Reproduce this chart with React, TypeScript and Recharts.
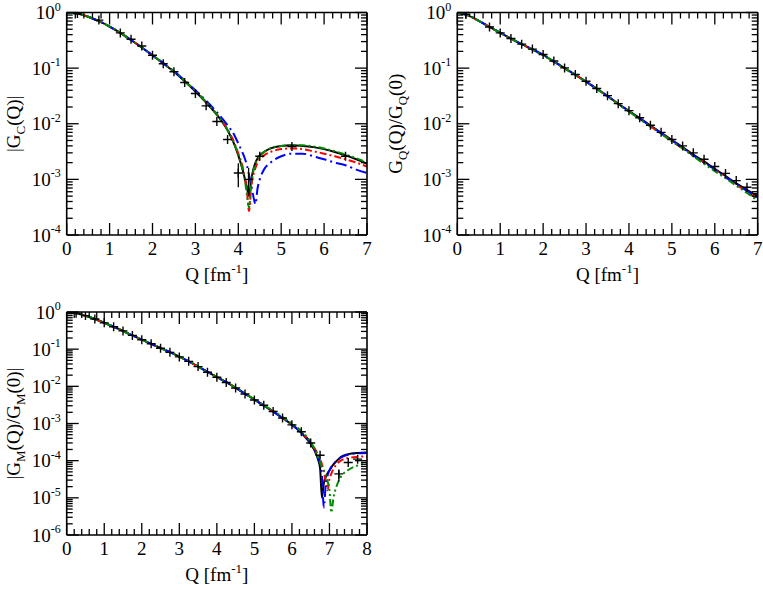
import React from 'react';
import { ComposedChart, Line, Scatter, XAxis, YAxis, ErrorBar, Label } from 'recharts';

// ---- panel 1: |G_C(Q)|
const gcQ = [0, 0.25, 0.5, 0.75, 1, 1.25, 1.5, 1.75, 2, 2.25, 2.5, 2.75, 3, 3.25, 3.5, 3.75, 3.9, 4, 4.1, 4.15, 4.2, 4.25, 4.3, 4.35, 4.4, 4.45, 4.5, 4.6, 4.75, 5, 5.25, 5.5, 5.75, 6, 6.25, 6.5, 6.75, 7];
const gcBlack = [1, 0.955, 0.84, 0.7, 0.56, 0.43, 0.32, 0.235, 0.17, 0.122, 0.086, 0.058, 0.038, 0.024, 0.0145, 0.0076, 0.0044, 0.0027, 0.0015, 0.00105, 0.00072, 0.0005, 0.00095, 0.0015, 0.002, 0.0024, 0.0027, 0.0031, 0.0036, 0.004, 0.0041, 0.004, 0.0038, 0.0035, 0.0031, 0.0027, 0.0023, 0.0019];
const gcRed = [1, 0.955, 0.84, 0.7, 0.56, 0.43, 0.32, 0.235, 0.17, 0.122, 0.087, 0.059, 0.039, 0.0245, 0.0148, 0.0079, 0.0047, 0.0029, 0.0017, 0.0011, 0.00062, 0.00027, 0.0007, 0.0012, 0.0016, 0.002, 0.0023, 0.0027, 0.0031, 0.0035, 0.0036, 0.0035, 0.0032, 0.0029, 0.0026, 0.0023, 0.002, 0.0017];
const gcBlue = [1, 0.955, 0.84, 0.7, 0.56, 0.43, 0.32, 0.235, 0.17, 0.123, 0.088, 0.06, 0.04, 0.026, 0.0162, 0.0094, 0.0064, 0.0044, 0.003, 0.0024, 0.0018, 0.0012, 0.0008, 0.0005, 0.00036, 0.0007, 0.001, 0.0015, 0.002, 0.0026, 0.0029, 0.0029, 0.0026, 0.0023, 0.002, 0.0018, 0.0015, 0.0013];
const gcGreen = [1, 0.955, 0.84, 0.7, 0.56, 0.43, 0.32, 0.235, 0.17, 0.122, 0.087, 0.059, 0.039, 0.0245, 0.0147, 0.0077, 0.0045, 0.0028, 0.0015, 0.001, 0.00055, 0.00031, 0.0008, 0.0014, 0.0019, 0.0023, 0.0026, 0.0031, 0.0036, 0.004, 0.0041, 0.0041, 0.0039, 0.0036, 0.0032, 0.0028, 0.0024, 0.002];
const gcExpQ = [0.25, 0.75, 1.25, 1.5, 1.75, 2, 2.25, 2.5, 2.75, 3, 3.25, 3.5, 3.75, 4, 4.24, 4.5, 5.25, 6.5];
const gcExp = [0.96, 0.73, 0.43, 0.33, 0.25, 0.17, 0.12, 0.086, 0.055, 0.035, 0.021, 0.011, 0.0052, 0.0013, 0.001, 0.0026, 0.0039, 0.0026];
const gcErrDown = [0, 0, 0, 0, 0, 0, 0, 0, 0, 0, 0, 0, 0, 0.00058, 0.0004, 0, 0, 0];
const gcErrUp = [0, 0, 0, 0, 0, 0, 0, 0, 0, 0, 0, 0, 0, 0.00065, 0.0006, 0, 0, 0];

// ---- panel 2: G_Q(Q)/G_Q(0)
const gqQ = [0, 0.25, 0.5, 0.75, 1, 1.25, 1.5, 1.75, 2, 2.25, 2.5, 2.75, 3, 3.25, 3.5, 3.75, 4, 4.25, 4.5, 4.75, 5, 5.25, 5.5, 5.75, 6, 6.25, 6.5, 6.75, 7];
const gqBlack = [1, 0.89, 0.71, 0.55, 0.43, 0.34, 0.27, 0.22, 0.174, 0.132, 0.1, 0.076, 0.0575, 0.0427, 0.0316, 0.0229, 0.017, 0.0126, 0.0093, 0.0069, 0.0051, 0.0038, 0.0028, 0.0021, 0.00155, 0.00115, 0.00085, 0.00065, 0.0005];
const gqRed = [1, 0.89, 0.71, 0.55, 0.43, 0.34, 0.27, 0.215, 0.171, 0.13, 0.099, 0.075, 0.057, 0.0423, 0.0312, 0.0226, 0.0167, 0.0123, 0.009, 0.0067, 0.0049, 0.0036, 0.0027, 0.002, 0.00148, 0.0011, 0.0008, 0.0006, 0.00044];
const gqBlue = [1, 0.89, 0.71, 0.555, 0.435, 0.34, 0.27, 0.217, 0.172, 0.131, 0.1, 0.076, 0.057, 0.0424, 0.0313, 0.0227, 0.0168, 0.0124, 0.0091, 0.0068, 0.005, 0.0037, 0.0027, 0.002, 0.0015, 0.0011, 0.00082, 0.00062, 0.00046];
const gqGreen = [1, 0.89, 0.71, 0.55, 0.43, 0.34, 0.27, 0.215, 0.171, 0.13, 0.099, 0.075, 0.0568, 0.042, 0.031, 0.0225, 0.0165, 0.0121, 0.0089, 0.0066, 0.0048, 0.0036, 0.0026, 0.0019, 0.0014, 0.00105, 0.00077, 0.00057, 0.00041];
const gqExpQ = [0.2, 0.75, 1, 1.25, 1.5, 1.75, 2, 2.25, 2.5, 2.75, 3, 3.25, 3.5, 3.75, 4, 4.25, 4.5, 4.75, 5, 5.25, 5.5, 5.75, 6, 6.25, 6.5, 6.75, 7];
const gqExp = [0.93, 0.55, 0.43, 0.34, 0.27, 0.22, 0.176, 0.134, 0.101, 0.077, 0.058, 0.043, 0.032, 0.023, 0.0172, 0.0128, 0.0094, 0.007, 0.0052, 0.004, 0.003, 0.0023, 0.0017, 0.00128, 0.00095, 0.00072, 0.00055];

// ---- panel 3: |G_M(Q)/G_M(0)|
const gmQ = [0, 0.25, 0.5, 0.75, 1, 1.25, 1.5, 1.75, 2, 2.25, 2.5, 2.75, 3, 3.25, 3.5, 3.75, 4, 4.25, 4.5, 4.75, 5, 5.25, 5.5, 5.75, 6, 6.25, 6.5, 6.6, 6.7, 6.75, 6.8, 6.85, 6.9, 6.95, 7, 7.05, 7.1, 7.2, 7.3, 7.5, 7.75, 8];
const gmBlack = [1, 0.93, 0.79, 0.65, 0.51, 0.4, 0.31, 0.234, 0.18, 0.14, 0.107, 0.083, 0.063, 0.047, 0.034, 0.0245, 0.0178, 0.0129, 0.0091, 0.0063, 0.0044, 0.003, 0.0021, 0.0014, 0.00093, 0.00056, 0.00028, 0.00019, 0.000105, 0.000063, 0.00001, 0.000025, 0.000036, 0.000046, 0.000055, 0.000066, 0.000078, 0.0001, 0.000125, 0.00015, 0.000162, 0.000166];
const gmRed = [1, 0.93, 0.79, 0.65, 0.51, 0.4, 0.31, 0.234, 0.18, 0.14, 0.107, 0.083, 0.063, 0.047, 0.034, 0.0246, 0.0179, 0.013, 0.0092, 0.0064, 0.0045, 0.0031, 0.0021, 0.00143, 0.00095, 0.00058, 0.00031, 0.00022, 0.00014, 0.00011, 0.00008, 0.00005, 0.000028, 0.000016, 0.000032, 0.000045, 0.000058, 0.000082, 0.0001, 0.000118, 0.000127, 0.00013];
const gmBlue = [1, 0.93, 0.79, 0.65, 0.51, 0.4, 0.31, 0.234, 0.18, 0.14, 0.107, 0.083, 0.063, 0.047, 0.034, 0.0245, 0.0178, 0.0129, 0.0091, 0.0063, 0.0044, 0.003, 0.0021, 0.0014, 0.00093, 0.00057, 0.0003, 0.0002, 0.00012, 0.000085, 0.00004, 0.0000055, 0.000022, 0.00004, 0.000055, 0.000068, 0.00008, 0.0001, 0.00012, 0.000145, 0.000158, 0.000162];
const gmGreen = [1, 0.93, 0.79, 0.65, 0.51, 0.4, 0.31, 0.234, 0.18, 0.14, 0.107, 0.083, 0.063, 0.047, 0.034, 0.0246, 0.018, 0.013, 0.0092, 0.0064, 0.0045, 0.0031, 0.0022, 0.0015, 0.001, 0.00062, 0.00032, 0.00021, 0.00012, 0.00009, 0.00007, 0.000055, 0.00004, 0.000028, 0.000016, 0.000004, 0.000009, 0.000022, 0.000036, 0.000056, 0.000074, 0.000085];
const gmExpQ = [0.25, 0.5, 0.75, 1, 1.25, 1.5, 1.75, 2, 2.25, 2.5, 2.75, 3, 3.25, 3.5, 3.75, 4, 4.25, 4.5, 4.75, 5, 5.25, 5.5, 5.75, 6, 6.25, 6.5, 6.75, 7.25, 7.5, 7.75];
const gmExp = [0.93, 0.8, 0.65, 0.51, 0.4, 0.31, 0.235, 0.18, 0.14, 0.106, 0.082, 0.062, 0.047, 0.034, 0.024, 0.0175, 0.0127, 0.009, 0.0062, 0.0043, 0.0031, 0.0021, 0.0014, 0.00092, 0.0006, 0.0003, 0.00014, 0.000044, 0.000089, 0.00011];
const gmErrDown = gmExpQ.map((q) => (q === 7.25 ? 0.0000165 : 0));
const gmErrUp = gmExpQ.map((q) => (q === 7.25 ? 0.000012 : 0));

const xMajor7 = [0, 1, 2, 3, 4, 5, 6, 7];
const xMajor8 = [0, 1, 2, 3, 4, 5, 6, 7, 8];
const yDecades4 = [1e-4, 1e-3, 1e-2, 1e-1, 1];
const yDecades6 = [1e-6, 1e-5, 1e-4, 1e-3, 1e-2, 1e-1, 1];

const SERIF = "'Liberation Serif', 'DejaVu Serif', serif";
const MAJOR = 12;
const MINOR = 6;
const FS = 19;
const SUB = 13;

const series = [
  { key: 'black', color: '#000000', dash: undefined },
  { key: 'red', color: '#ff0000', dash: '7 3 2 3' },
  { key: 'blue', color: '#0000ff', dash: '11 4 2 4' },
  { key: 'green', color: '#008b00', dash: '7 3 2 3 2 3' },
];

const makeRows = (q: number[], b: number[], r: number[], bl: number[], g: number[]) =>
  q.map((x, i) => ({ q: x, black: b[i], red: r[i], blue: bl[i], green: g[i] }));

const makePoints = (q: number[], v: number[], lo?: number[], hi?: number[]) =>
  q.map((x, i) => ({ q: x, v: v[i], err: [lo ? lo[i] : 0, hi ? hi[i] : 0] }));

const makeXTicks = (majors: number[]) => {
  const out: number[] = [];
  majors.forEach((m, i) => {
    out.push(m);
    if (i < majors.length - 1) for (let k = 1; k < 5; k++) out.push(m + (k * (majors[i + 1] - m)) / 5);
  });
  return out;
};

const makeLogTicks = (decades: number[]) => {
  const out: number[] = [];
  decades.forEach((d, i) => {
    out.push(d);
    if (i < decades.length - 1) for (let k = 2; k < 10; k++) out.push(k * d);
  });
  return out;
};

const isInt = (v: number) => Math.abs(v - Math.round(v)) < 1e-6;
const isDecade = (v: number) => isInt(Math.log10(v));

function BottomTick(props: any) {
  const { x, y, payload } = props;
  const major = isInt(payload.value);
  return (
    <g>
      <line x1={x} y1={y} x2={x} y2={y - (major ? MAJOR : MINOR)} stroke="#000" strokeWidth={1.3} />
      {major && (
        <text x={x} y={y + 20} textAnchor="middle" fontSize={FS} fontFamily={SERIF} fill="#000">
          {Math.round(payload.value)}
        </text>
      )}
    </g>
  );
}

function TopTick(props: any) {
  const { x, y, payload } = props;
  const major = isInt(payload.value);
  return <line x1={x} y1={y} x2={x} y2={y + (major ? MAJOR : MINOR)} stroke="#000" strokeWidth={1.3} />;
}

function LeftTick(props: any) {
  const { x, y, payload } = props;
  const major = isDecade(payload.value);
  const e = Math.round(Math.log10(payload.value));
  return (
    <g>
      <line x1={x} y1={y} x2={x + (major ? MAJOR : MINOR)} y2={y} stroke="#000" strokeWidth={1.3} />
      {major && (
        <text x={x - 6} y={y + 6.5} textAnchor="end" fontSize={FS} fontFamily={SERIF} fill="#000">
          10
          <tspan dy={-8.5} fontSize={12}>
            {String(e)}
          </tspan>
        </text>
      )}
    </g>
  );
}

function RightTick(props: any) {
  const { x, y, payload } = props;
  const major = isDecade(payload.value);
  return <line x1={x} y1={y} x2={x - (major ? MAJOR : MINOR)} y2={y} stroke="#000" strokeWidth={1.3} />;
}

function Plus(props: any) {
  const { cx, cy } = props;
  if (cx == null || cy == null) return <g />;
  return (
    <g stroke="#000" strokeWidth={1.4}>
      <line x1={cx - 4.5} y1={cy} x2={cx + 4.5} y2={cy} />
      <line x1={cx} y1={cy - 4.5} x2={cx} y2={cy + 4.5} />
    </g>
  );
}

const qTitle = (
  <>
    Q [fm
    <tspan dy={-8} fontSize={SUB}>
      -1
    </tspan>
    <tspan dy={8}>]</tspan>
  </>
);

const sub = (s: string, after: string) => (
  <>
    <tspan dy={5} fontSize={SUB}>
      {s}
    </tspan>
    <tspan dy={-5}>{after}</tspan>
  </>
);

type Box = { left: number; top: number; width: number; height: number };
type Plot = { x0: number; x1: number; y0: number; y1: number };

function Panel(props: {
  box: Box;
  plot: Plot;
  xMajor: number[];
  yDecades: number[];
  rows: any[];
  points: any[];
  yTitle: React.ReactNode;
  yTitleX: number;
}) {
  const { box, plot, xMajor, yDecades, rows, points, yTitle, yTitleX } = props;
  const px0 = plot.x0 - box.left;
  const px1 = plot.x1 - box.left;
  const py0 = plot.y0 - box.top;
  const py1 = plot.y1 - box.top;
  const xDomain = [xMajor[0], xMajor[xMajor.length - 1]];
  const yDomain = [yDecades[0], yDecades[yDecades.length - 1]];
  const xTicks = makeXTicks(xMajor);
  const yTicks = makeLogTicks(yDecades);
  const axisLine = { stroke: '#000', strokeWidth: 1.6 };
  const cx = (px0 + px1) / 2;
  const cy = (py0 + py1) / 2;
  const tx = yTitleX - box.left + 7;

  return (
    <div style={{ position: 'absolute', left: box.left, top: box.top }}>
      <ComposedChart
        width={box.width}
        height={box.height}
        data={rows}
        margin={{ top: py0 - 1, right: box.width - px1 - 1, bottom: box.height - py1 - 30, left: px0 - 60 }}
      >
        <XAxis
          xAxisId="b"
          dataKey="q"
          type="number"
          domain={xDomain}
          allowDataOverflow
          ticks={xTicks}
          interval={0}
          tickSize={0}
          tickMargin={0}
          tickLine={false}
          tick={BottomTick}
          axisLine={axisLine}
          height={30}
        >
          <Label
            content={() => (
              <text x={cx} y={py1 + 46} textAnchor="middle" fontSize={FS} fontFamily={SERIF} fill="#000">
                {qTitle}
              </text>
            )}
          />
        </XAxis>
        <XAxis
          xAxisId="t"
          orientation="top"
          dataKey="q"
          type="number"
          domain={xDomain}
          allowDataOverflow
          ticks={xTicks}
          interval={0}
          tickSize={0}
          tickMargin={0}
          tickLine={false}
          tick={TopTick}
          axisLine={axisLine}
          height={1}
        />
        <YAxis
          yAxisId="l"
          type="number"
          scale="log"
          domain={yDomain}
          allowDataOverflow
          ticks={yTicks}
          interval={0}
          tickSize={0}
          tickMargin={0}
          tickLine={false}
          tick={LeftTick}
          axisLine={axisLine}
          width={60}
        >
          <Label
            content={() => (
              <text
                x={0}
                y={0}
                transform={`translate(${tx} ${cy}) rotate(-90)`}
                textAnchor="middle"
                fontSize={FS}
                fontFamily={SERIF}
                fill="#000"
              >
                {yTitle}
              </text>
            )}
          />
        </YAxis>
        <YAxis
          yAxisId="r"
          orientation="right"
          type="number"
          scale="log"
          domain={yDomain}
          allowDataOverflow
          ticks={yTicks}
          interval={0}
          tickSize={0}
          tickMargin={0}
          tickLine={false}
          tick={RightTick}
          axisLine={axisLine}
          width={1}
        />
        {series.map((s) => (
          <Line
            key={s.key}
            xAxisId="b"
            yAxisId="l"
            dataKey={s.key}
            type="monotone"
            stroke={s.color}
            strokeWidth={2}
            strokeDasharray={s.dash}
            dot={false}
            activeDot={false}
            isAnimationActive={false}
          />
        ))}
        <Scatter xAxisId="b" yAxisId="l" data={points} dataKey="v" shape={Plus} isAnimationActive={false}>
          <ErrorBar dataKey="err" direction="y" width={0} stroke="#000" strokeWidth={1.3} isAnimationActive={false} />
        </Scatter>
      </ComposedChart>
    </div>
  );
}

export default function App() {
  return (
    <div style={{ position: 'absolute', left: 0, top: 0, width: 763, height: 590, background: '#fff' }}>
      <style>{'svg.recharts-surface { overflow: visible; }'}</style>
      <Panel
        box={{ left: 0, top: 0, width: 380, height: 290 }}
        plot={{ x0: 66.7, x1: 367, y0: 12.5, y1: 235 }}
        xMajor={xMajor7}
        yDecades={yDecades4}
        rows={makeRows(gcQ, gcBlack, gcRed, gcBlue, gcGreen)}
        points={makePoints(gcExpQ, gcExp, gcErrDown, gcErrUp)}
        yTitle={<>|G{sub('C', '(Q)|')}</>}
        yTitleX={12.5}
      />
      <Panel
        box={{ left: 380, top: 0, width: 383, height: 290 }}
        plot={{ x0: 457.3, x1: 757.7, y0: 12.5, y1: 235 }}
        xMajor={xMajor7}
        yDecades={yDecades4}
        rows={makeRows(gqQ, gqBlack, gqRed, gqBlue, gqGreen)}
        points={makePoints(gqExpQ, gqExp)}
        yTitle={<>G{sub('Q', '(Q)/G')}{sub('Q', '(0)')}</>}
        yTitleX={395}
      />
      <Panel
        box={{ left: 0, top: 290, width: 380, height: 300 }}
        plot={{ x0: 66.7, x1: 367, y0: 312, y1: 535 }}
        xMajor={xMajor8}
        yDecades={yDecades6}
        rows={makeRows(gmQ, gmBlack, gmRed, gmBlue, gmGreen)}
        points={makePoints(gmExpQ, gmExp, gmErrDown, gmErrUp)}
        yTitle={<>|G{sub('M', '(Q)/G')}{sub('M', '(0)|')}</>}
        yTitleX={12.5}
      />
    </div>
  );
}
